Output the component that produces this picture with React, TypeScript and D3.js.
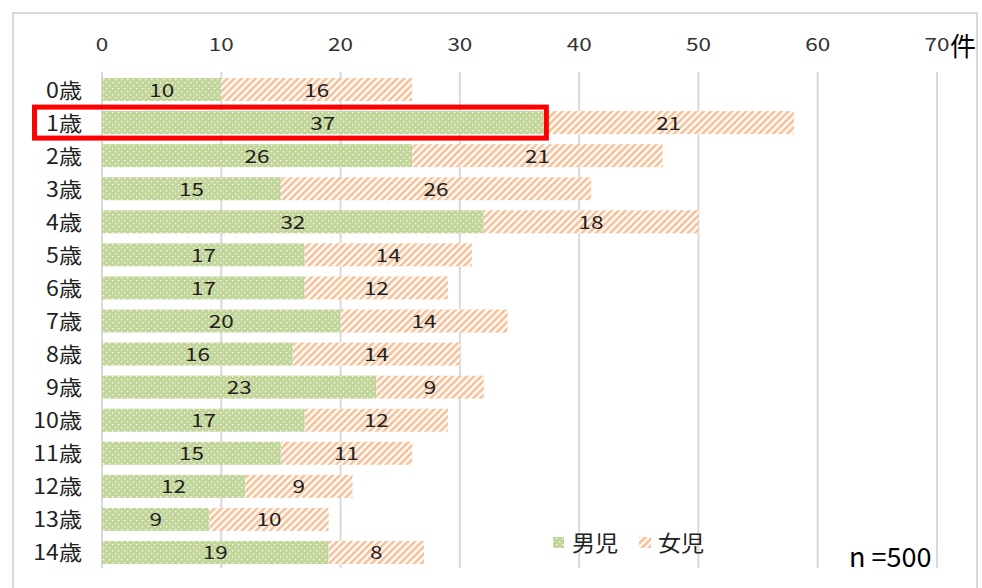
import React from "react";
import * as d3 from "d3";

const categories = ["0歳","1歳","2歳","3歳","4歳","5歳","6歳","7歳","8歳","9歳","10歳","11歳","12歳","13歳","14歳"];
const boys = [10,37,26,15,32,17,17,20,16,23,17,15,12,9,19];
const girls = [16,21,21,26,18,14,12,14,14,9,12,11,9,10,8];
const ticks = [0,10,20,30,40,50,60,70];
const seriesNames = ["男児","女児"];

const W = 982, H = 588;
const FONT = "'Noto Sans CJK JP', 'Noto Sans', sans-serif";

function T(props: { x: number; y: number; sx?: number; size: number; anchor?: string; fill?: string; children: any }) {
  const { x, y, sx = 1, size, anchor = "start", fill = "#222", children } = props;
  return (
    <text transform={`translate(${x},${y}) scale(${sx},1)`} textAnchor={anchor} fontSize={size} fill={fill}>
      {children}
    </text>
  );
}

export default function App() {
  const x = d3.scaleLinear().domain([0, 70]).range([102, 937]);
  const y = d3.scaleBand<string>().domain(categories).range([73, 569]).padding(0);
  const bh = 23;
  const cy = (c: string) => (y(c) as number) + y.bandwidth() / 2;
  const hl = cy("1歳");
  return (
    <svg width={W} height={H} style={{ position: "absolute", left: 0, top: 0 }} fontFamily={FONT}>
      <defs>
        <pattern id="dots" width="6" height="6" patternUnits="userSpaceOnUse">
          <rect width="6" height="6" fill="#c2d69a" />
          <rect x="1" y="1" width="1.3" height="1.3" fill="#ffffff" />
          <rect x="4" y="4" width="1.3" height="1.3" fill="#ffffff" />
        </pattern>
        <pattern id="stripes" width="5" height="5" patternUnits="userSpaceOnUse" patternTransform="rotate(45)">
          <rect width="5" height="5" fill="#ffffff" />
          <rect width="2.6" height="5" fill="#f7bf95" />
        </pattern>
      </defs>
      <rect x={0} y={0} width={W} height={H} fill="#fff" />
      <rect x={13} y={13} width={964} height={590} fill="#fff" stroke="#d9d9d9" strokeWidth={2} />
      {ticks.map(t => (
        <g key={t}>
          <line x1={x(t)} x2={x(t)} y1={72} y2={568} stroke="#d9d9d9" strokeWidth={2} />
          <T x={x(t)} y={51} sx={1.25} size={18} anchor="middle" fill="#333">{t}</T>
        </g>
      ))}
      <T x={950} y={56} size={26} fill="#000">件</T>
      {categories.map((c, i) => (
        <g key={c}>
          <rect x={x(0)} y={cy(c) - bh / 2} width={x(boys[i]) - x(0)} height={bh} fill="url(#dots)" />
          <rect x={x(boys[i])} y={cy(c) - bh / 2} width={x(boys[i] + girls[i]) - x(boys[i])} height={bh} fill="url(#stripes)" />
          <T x={(x(0) + x(boys[i])) / 2} y={cy(c) + 7} sx={1.25} size={18} anchor="middle">{boys[i]}</T>
          <T x={(x(boys[i]) + x(boys[i] + girls[i])) / 2} y={cy(c) + 7} sx={1.25} size={18} anchor="middle">{girls[i]}</T>
          <T x={82} y={cy(c) + 8} sx={1.1} size={21} anchor="end">{c}</T>
        </g>
      ))}
      <rect x={34.5} y={hl - 15.5} width={x(37) + 3 - 34.5} height={31} fill="none" stroke="#ff0000" strokeWidth={5} />
      <rect x={553} y={537} width={11} height={11} fill="url(#dots)" />
      <T x={572} y={551} size={22} sx={1.05}>{seriesNames[0]}</T>
      <rect x={639} y={537} width={12} height={11} fill="url(#stripes)" />
      <T x={658} y={551} size={22} sx={1.05}>{seriesNames[1]}</T>
      <T x={849} y={567} size={27} fill="#000">n =500</T>
    </svg>
  );
}
